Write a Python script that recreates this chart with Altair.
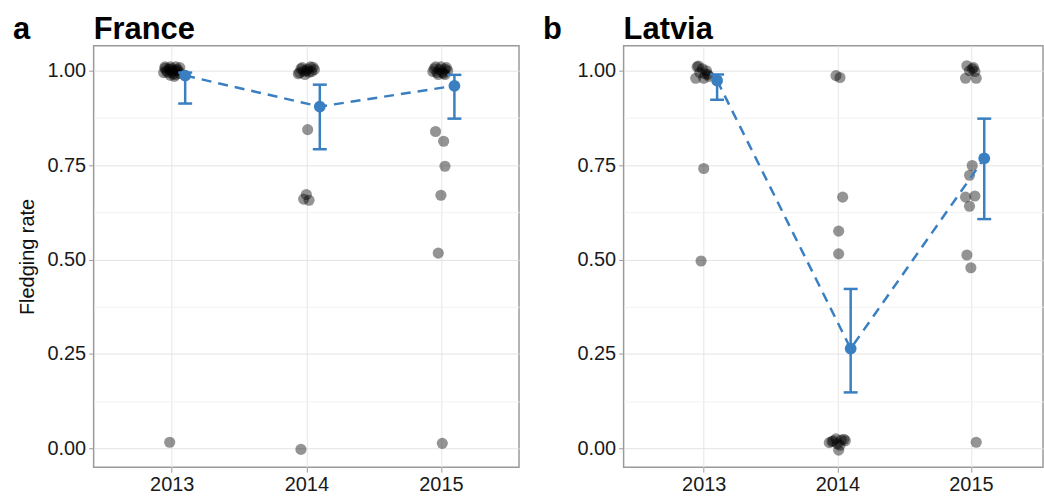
import altair as alt
import pandas as pd

years = [2013, 2014, 2015]
y_ticks = [0, 0.125, 0.25, 0.375, 0.5, 0.625, 0.75, 0.875, 1.0]

# France: individual nests (year + jitter, fledging rate)
fr_x = [2012.95, 2012.97, 2013.00, 2013.03, 2013.05, 2012.99, 2013.02, 2012.94, 2013.06, 2013.01,
        2013.04, 2012.96, 2012.98, 2013.00, 2013.03, 2012.95, 2013.06, 2012.99, 2013.02, 2012.985,
        2013.95, 2013.97, 2014.00, 2014.03, 2014.06, 2013.99, 2014.02, 2013.96, 2014.04, 2014.05,
        2013.98, 2014.01, 2013.94,
        2014.01, 2014.00, 2013.98, 2014.02, 2013.96,
        2014.95, 2014.97, 2015.00, 2015.03, 2015.05, 2014.99, 2015.02, 2014.94, 2015.04, 2015.01,
        2014.96, 2014.98, 2015.03,
        2014.96, 2015.02, 2015.03, 2015.00, 2014.98, 2015.01]
fr_y = [1.010, 0.995, 1.005, 0.990, 1.000, 1.010, 0.985, 0.995, 1.008, 0.992,
        1.003, 1.000, 1.004, 0.998, 1.010, 1.006, 0.993, 0.988, 1.001, 0.016,
        0.995, 1.008, 1.000, 1.010, 1.003, 0.990, 0.996, 1.005, 0.998, 1.009,
        0.999, 1.004, 0.992,
        0.844, 0.672, 0.660, 0.657, -0.003,
        1.005, 0.995, 1.010, 0.990, 1.000, 1.003, 0.993, 0.998, 1.008, 0.996,
        1.010, 0.990, 1.004,
        0.839, 0.813, 0.747, 0.670, 0.517, 0.013]
fr_mean_x = [2013.1, 2014.1, 2015.1]
fr_mean = [0.987, 0.905, 0.960]
fr_lo = [0.913, 0.792, 0.873]
fr_hi = [0.995, 0.963, 0.989]

# Latvia
lv_x = [2012.95, 2012.99, 2013.03, 2012.94, 2013.00, 2013.02, 2012.97, 2012.96, 2013.01, 2013.04,
        2013.00, 2012.98,
        2013.99, 2014.02, 2014.04, 2014.01, 2014.01,
        2013.94, 2013.97, 2014.00, 2014.03, 2014.06, 2013.99, 2014.02, 2014.01, 2013.96, 2014.05,
        2014.97, 2015.01, 2015.03, 2014.96, 2015.04, 2014.99, 2015.02,
        2015.01, 2014.99, 2014.96, 2015.03, 2014.99, 2014.97, 2015.00, 2015.04]
lv_y = [1.010, 1.005, 0.990, 0.980, 0.980, 1.000, 0.995, 1.012, 0.992, 0.985,
        0.741, 0.496,
        0.987, 0.982, 0.665, 0.575, 0.515,
        0.015, 0.020, 0.012, 0.022, 0.020, 0.025, 0.008, -0.005, 0.018, 0.024,
        1.013, 1.005, 0.998, 0.980, 0.980, 1.000, 1.008,
        0.749, 0.723, 0.665, 0.668, 0.641, 0.512, 0.478, 0.016]
lv_mean_x = [2013.1, 2014.1, 2015.1]
lv_mean = [0.974, 0.264, 0.768]
lv_lo = [0.923, 0.148, 0.607]
lv_hi = [0.990, 0.422, 0.873]

BLUE = "#3a7fc1"
FONT = "Liberation Sans"
MAJOR = "datum.value * 4 == round(datum.value * 4)"


def panel(letter, name, px, py, mx, my, lo, hi, width, xdom, ytitle):
    pts = pd.DataFrame({"x": px, "y": py})
    mns = pd.DataFrame({"x": mx, "y": my, "lo": lo, "hi": hi})
    xs = alt.Scale(domain=xdom, nice=False, zero=False)
    ys = alt.Scale(domain=[-0.05, 1.066], nice=False, zero=False)
    xaxis = alt.Axis(values=years, format="d", grid=True, gridColor="#e6e6e6", tickSize=5,
                     labelPadding=2, labelFontSize=20, labelFont=FONT, labelColor="#1a1a1a")
    yaxis = alt.Axis(values=y_ticks, grid=True,
                     labelExpr=MAJOR + " ? format(datum.value, '.2f') : ''",
                     gridColor=alt.condition(MAJOR, alt.value("#e3e3e3"), alt.value("#f2f2f2")),
                     tickOpacity=alt.condition(MAJOR, alt.value(1), alt.value(0)),
                     tickSize=5, labelPadding=3, titlePadding=9,
                     labelFontSize=20, labelFont=FONT, labelColor="#1a1a1a",
                     titleFontSize=20, titleFont=FONT, titleFontWeight="normal",
                     titleColor="#111111")

    def X(f):
        return alt.X(f, scale=xs, axis=xaxis, title=None)

    def Y(f):
        return alt.Y(f, scale=ys, axis=yaxis, title=ytitle)

    points = alt.Chart(pts).mark_circle(size=125, color="black", opacity=0.42).encode(
        x=X("x:Q"), y=Y("y:Q"))
    line = alt.Chart(mns).mark_line(color=BLUE, strokeDash=[10, 7], strokeWidth=2.5).encode(
        x=X("x:Q"), y=Y("y:Q"))
    rule = alt.Chart(mns).mark_rule(color=BLUE, strokeWidth=2.5).encode(
        x=X("x:Q"), y=Y("lo:Q"), y2="hi:Q")
    cap_lo = alt.Chart(mns).mark_tick(color=BLUE, orient="horizontal", size=14, thickness=2.5,
                                      opacity=1).encode(x=X("x:Q"), y=Y("lo:Q"))
    cap_hi = alt.Chart(mns).mark_tick(color=BLUE, orient="horizontal", size=14, thickness=2.5,
                                      opacity=1).encode(x=X("x:Q"), y=Y("hi:Q"))
    mpt = alt.Chart(mns).mark_circle(color=BLUE, size=140, opacity=1).encode(
        x=X("x:Q"), y=Y("y:Q"))
    lab = alt.Chart(pd.DataFrame({"t": [letter]})).mark_text(
        align="left", baseline="alphabetic", fontSize=31, fontWeight="bold", font=FONT,
        color="black").encode(text="t:N", x=alt.value(-81), y=alt.value(-7))
    ttl = alt.Chart(pd.DataFrame({"t": [name]})).mark_text(
        align="left", baseline="alphabetic", fontSize=31, fontWeight="bold", font=FONT,
        color="black").encode(text="t:N", x=alt.value(0), y=alt.value(-7))
    return alt.layer(points, line, rule, cap_lo, cap_hi, mpt, lab, ttl).properties(
        width=width, height=423)


a = panel("a", "France", fr_x, fr_y, fr_mean_x, fr_mean, fr_lo, fr_hi, 427,
          [2012.42, 2015.58], "Fledging rate")
b = panel("b", "Latvia", lv_x, lv_y, lv_mean_x, lv_mean, lv_lo, lv_hi, 421,
          [2012.40, 2015.54], None)

chart = alt.hconcat(a, b, spacing=22).properties(
    padding={"left": 12, "top": 12, "right": 0, "bottom": 0}
).configure(font=FONT).configure_view(
    stroke="#9a9a9a", strokeWidth=1.5
).configure_axis(
    tickColor="#9a9a9a", domain=False
)

chart.save("out.html", embed_options={"renderer": "svg", "actions": False})
